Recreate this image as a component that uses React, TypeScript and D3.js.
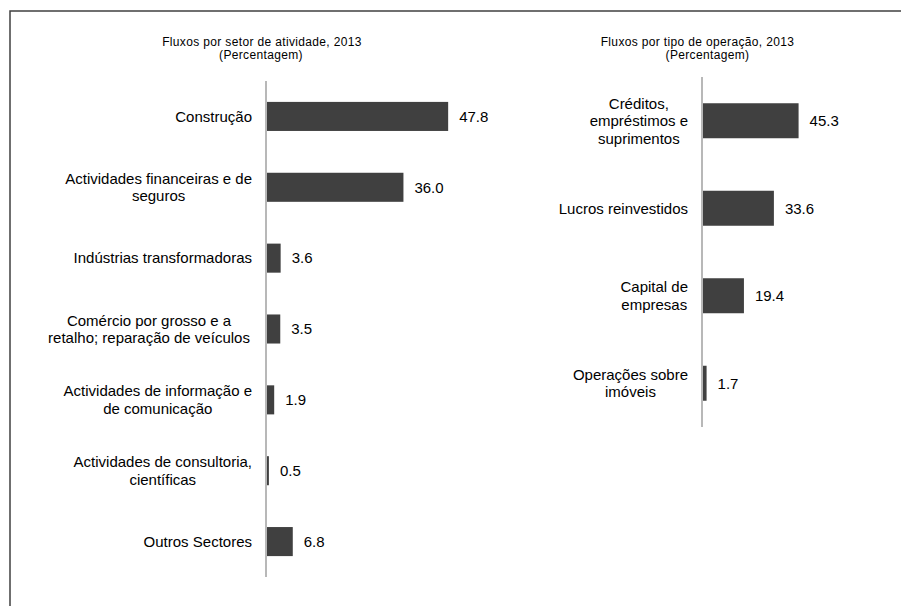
import React from "react";
import * as d3 from "d3";

const sectorLabels: string[][] = [
  ["Construção"],
  ["Actividades financeiras e de", "seguros"],
  ["Indústrias transformadoras"],
  ["Comércio por grosso e a", "retalho; reparação  de veículos"],
  ["Actividades de informação e", "de comunicação"],
  ["Actividades de consultoria,", "científicas"],
  ["Outros Sectores"],
];
const sectorValues: number[] = [47.8, 36.0, 3.6, 3.5, 1.9, 0.5, 6.8];

const operationLabels: string[][] = [
  ["Créditos,", "empréstimos e", "suprimentos"],
  ["Lucros reinvestidos"],
  ["Capital de", "empresas"],
  ["Operações sobre", "imóveis"],
];
const operationValues: number[] = [45.3, 33.6, 19.4, 1.7];

const leftTitle = ["Fluxos por setor de atividade,  2013", "(Percentagem)"];
const rightTitle = ["Fluxos por tipo de operação, 2013", "(Percentagem)"];

const FONT = "'Liberation Sans', Arial, sans-serif";
const LABEL_SIZE = 15;
const LINE_H = 17.5;

let canvasCtx: CanvasRenderingContext2D | null = null;
function measure(text: string, size: number): number {
  if (!canvasCtx) {
    const c = document.createElement("canvas");
    canvasCtx = c.getContext("2d");
  }
  if (!canvasCtx) return text.length * size * 0.5;
  canvasCtx.font = `${size}px 'Liberation Sans', Arial, sans-serif`;
  return canvasCtx.measureText(text).width;
}

type PanelProps = {
  labels: string[][];
  values: number[];
  title: string[];
  titleXs: number[];
  axisX: number;
  yRange: [number, number];
  pad: number;
  pxPerUnit: number;
};

function Panel({ labels, values, title, titleXs, axisX, yRange, pad, pxPerUnit }: PanelProps) {
  const keys = labels.map((l) => l.join(" "));
  const y = d3
    .scaleBand<string>()
    .domain(keys)
    .range(yRange)
    .paddingInner(pad)
    .paddingOuter(pad / 2);
  const x = d3
    .scaleLinear()
    .domain([0, 50])
    .range([axisX + 1, axisX + 1 + 50 * pxPerUnit]);
  const labelRight = axisX - 14;

  return (
    <g>
      {title.map((t, i) => (
        <text
          key={i}
          x={titleXs[i]}
          y={46 + i * 13}
          textAnchor="middle"
          fontFamily={FONT}
          fontSize={12}
          letterSpacing={0.35}
          fill="#000"
        >
          {t}
        </text>
      ))}
      {keys.map((k, i) => {
        const bw = y.bandwidth();
        const y0 = y(k)!;
        const cy = y0 + bw / 2;
        const lines = labels[i];
        const maxW = Math.max(...lines.map((l) => measure(l, LABEL_SIZE)));
        const cx = labelRight - maxW / 2;
        return (
          <g key={k}>
            <rect
              x={x(0)}
              y={y0}
              width={Math.max(0, x(values[i]) - x(0))}
              height={bw}
              fill="#404040"
            />
            {lines.map((l, j) => (
              <text
                key={j}
                x={lines.length > 1 ? cx : labelRight}
                y={cy + (j - (lines.length - 1) / 2) * LINE_H}
                dy="0.35em"
                textAnchor={lines.length > 1 ? "middle" : "end"}
                fontFamily={FONT}
                fontSize={LABEL_SIZE}
                fill="#000"
              >
                {l}
              </text>
            ))}
            <text
              x={x(values[i]) + 11}
              y={cy}
              dy="0.35em"
              fontFamily={FONT}
              fontSize={LABEL_SIZE}
              fill="#000"
            >
              {values[i].toFixed(1)}
            </text>
          </g>
        );
      })}
      <line
        x1={axisX}
        x2={axisX}
        y1={yRange[0]}
        y2={yRange[1]}
        stroke="#a0a0a0"
        strokeWidth={1.5}
      />
    </g>
  );
}

export default function App() {
  return (
    <svg
      width={901}
      height={606}
      style={{ position: "absolute", left: 0, top: 0, background: "#fff" }}
    >
      <rect x={0} y={0} width={901} height={606} fill="#fff" />
      <path d="M10,606 L10,11 L901,11" fill="none" stroke="#404040" strokeWidth={1.5} />
      <Panel
        labels={sectorLabels}
        values={sectorValues}
        title={leftTitle}
        titleXs={[262, 261]}
        axisX={266}
        yRange={[81, 577]}
        pad={0.59}
        pxPerUnit={3.79}
      />
      <Panel
        labels={operationLabels}
        values={operationValues}
        title={rightTitle}
        titleXs={[697.5, 707.5]}
        axisX={702}
        yRange={[77, 427]}
        pad={0.6}
        pxPerUnit={2.11}
      />
    </svg>
  );
}
